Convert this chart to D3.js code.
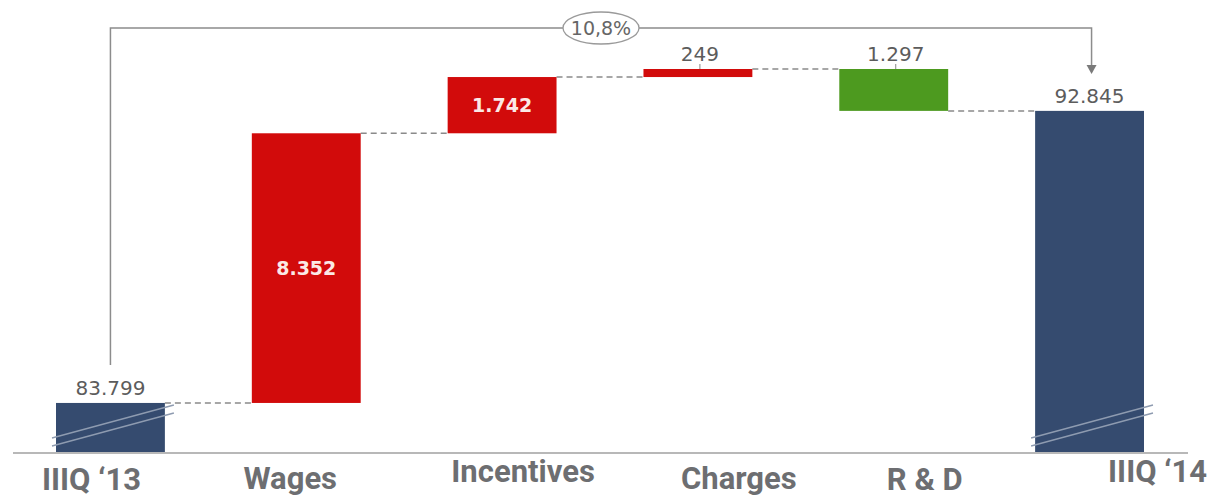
<!DOCTYPE html>
<html><head><meta charset="utf-8">
<script src="https://cdn.jsdelivr.net/npm/d3@7"></script>
<style>html,body{margin:0;padding:0;background:#fff;}svg{display:block;}</style>
</head><body>
<svg id="c" width="1214" height="497"></svg>
<script>
// ---- data ----
const categories = ["IIIQ \u201813", "Wages", "Incentives", "Charges", "R & D", "IIIQ \u201814"];
const kinds = ["total", "delta", "delta", "delta", "delta", "total"];
const values = [83799, 8352, 1742, 249, -1297, 92845];
const valueLabels = ["83.799", "8.352", "1.742", "249", "1.297", "92.845"];
const labelInside = [false, true, true, false, false, false];
const changeLabel = "10,8%";

// ---- layout (style only) ----
const catDx = [-19, -16, 21, 41, 31, 68];
const catDy = [38, 37, 30, 37, 38, 30];
const colors = {total: "#354b6f", up: "#d20b0b", down: "#4d9a1f"};

const svg = d3.select("#c");
const x = d3.scaleBand().domain(categories).range([56, 1144]).paddingInner(0.444).paddingOuter(0);
const y = d3.scaleLinear().domain([82280, 94142]).range([452, 69]);
const base = 452;

// compute running totals
let run = 0;
const bars = categories.map((c, i) => {
  let y0, y1;
  if (kinds[i] === "total") { y0 = y.domain()[0]; y1 = values[i]; run = values[i]; }
  else { y0 = run; y1 = run + values[i]; run = y1; }
  return {c, i, y0, y1, end: run, kind: kinds[i], v: values[i]};
});

// baseline
svg.append("line").attr("x1", 13).attr("x2", 1188).attr("y1", base + 1).attr("y2", base + 1)
  .attr("stroke", "#a0a0a0").attr("stroke-width", 1.5);

// connectors
for (let i = 0; i < bars.length - 1; i++) {
  const yy = y(bars[i].end);
  svg.append("line")
    .attr("x1", x(categories[i]) + x.bandwidth()).attr("x2", x(categories[i + 1]))
    .attr("y1", yy).attr("y2", yy)
    .attr("stroke", "#8a8a8a").attr("stroke-width", 1.5).attr("stroke-dasharray", "6,4");
}

// bars
svg.selectAll("rect.bar").data(bars).enter().append("rect")
  .attr("x", d => x(d.c)).attr("width", x.bandwidth())
  .attr("y", d => y(Math.max(d.y0, d.y1)))
  .attr("height", d => Math.abs(y(d.y0) - y(d.y1)))
  .attr("fill", d => d.kind === "total" ? colors.total : (d.v >= 0 ? colors.up : colors.down));

// axis-break marks on total bars
bars.filter(d => d.kind === "total").forEach(d => {
  const x0 = x(d.c) - 4, x1 = x(d.c) + x.bandwidth() + 9;
  [[-14, -47], [-6, -39]].forEach(([a, b]) => {
    svg.append("line").attr("x1", x0).attr("x2", x1)
      .attr("y1", base + a).attr("y2", base + b)
      .attr("stroke", "#8e9bb0").attr("stroke-width", 1.3);
  });
});

// value labels
bars.forEach((d, i) => {
  const cx = x(d.c) + x.bandwidth() / 2;
  if (labelInside[i]) {
    svg.append("text").attr("x", cx).attr("y", (y(d.y0) + y(d.y1)) / 2 + 7)
      .attr("text-anchor", "middle").attr("fill", "#fbe9e6")
      .style("font-family", "'DejaVu Sans', Verdana, sans-serif").style("font-weight", "bold")
      .style("font-size", "19px").text(valueLabels[i]);
  } else {
    const top = y(Math.max(d.y0, d.y1));
    svg.append("text").attr("x", cx + (d.kind === "delta" ? 2 : 0)).attr("y", top - 8)
      .attr("text-anchor", "middle").attr("fill", "#5c5c5c")
      .style("font-family", "'DejaVu Sans', Verdana, sans-serif")
      .style("font-size", "20px").text(valueLabels[i]);
    if (d.kind === "delta") {
      svg.append("line").attr("x1", cx + 2).attr("x2", cx + 2).attr("y1", top - 5).attr("y2", top)
        .attr("stroke", "#888").attr("stroke-width", 1);
    }
  }
});

// category labels
svg.selectAll("text.cat").data(categories).enter().append("text")
  .attr("x", (d, i) => x(d) + x.bandwidth() / 2 + catDx[i])
  .attr("y", (d, i) => base + catDy[i])
  .attr("text-anchor", "middle").attr("fill", "#6d6e71")
  .style("font-family", "Roboto, sans-serif").style("font-weight", "bold").style("font-size", "31px")
  .text(d => d);

// change bracket
const sx = x(categories[0]) + x.bandwidth() / 2;
const ex = x(categories[5]) + x.bandwidth() / 2 + 2;
const topY = 28;
const endTop = y(values[5]);
svg.append("path")
  .attr("d", `M${sx},${y(values[0]) - 38}V${topY}H${ex}V${endTop - 44}`)
  .attr("fill", "none").attr("stroke", "#8c8c8c").attr("stroke-width", 1.5);
svg.append("path")
  .attr("d", `M${ex - 5},${endTop - 46}L${ex + 5},${endTop - 46}L${ex},${endTop - 37}Z`)
  .attr("fill", "#7a7a7a");
svg.append("ellipse").attr("cx", 601).attr("cy", topY).attr("rx", 38).attr("ry", 16)
  .attr("fill", "#fff").attr("stroke", "#9a9a9a").attr("stroke-width", 1.3);
svg.append("text").attr("x", 601).attr("y", topY + 7).attr("text-anchor", "middle")
  .attr("fill", "#666").style("font-family", "'DejaVu Sans', Verdana, sans-serif")
  .style("font-size", "19px").text(changeLabel);
</script>
</body></html>
